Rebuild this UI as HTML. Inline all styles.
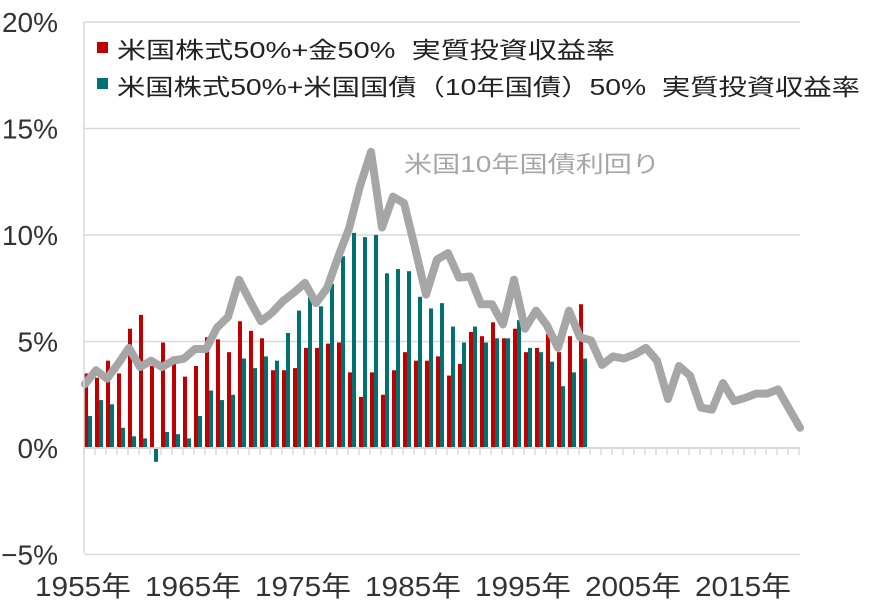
<!DOCTYPE html>
<html><head><meta charset="utf-8">
<style>
html,body{margin:0;padding:0;background:#fff;}
svg{display:block;font-family:"Liberation Sans","Noto Sans CJK JP",sans-serif;}
</style></head>
<body>
<svg id="chart" width="872" height="608" viewBox="0 0 872 608" xmlns="http://www.w3.org/2000/svg">
<g id="grid"></g>
<g id="bars"></g>
<g id="line"></g>
<g id="axes"></g>
<g>
  <rect x="97" y="42" width="11" height="11" fill="#c00000"/>
  <text x="117" y="58" font-size="23" fill="#222" textLength="498" lengthAdjust="spacingAndGlyphs" xml:space="preserve">米国株式50%+金50%  実質投資収益率</text>
  <rect x="97" y="78" width="11" height="11" fill="#007070"/>
  <text x="117" y="95" font-size="23" fill="#222" textLength="743" lengthAdjust="spacingAndGlyphs" xml:space="preserve">米国株式50%+米国国債（10年国債）50%  実質投資収益率</text>
</g>
<text x="404" y="172" font-size="23" fill="#a6a6a6" textLength="256" lengthAdjust="spacingAndGlyphs">米国10年国債利回り</text>
</svg>
<script>
const startYear = 1955;
const goldReturns = [3.5,3.3,4.1,3.5,5.6,6.25,3.85,4.95,4.3,3.35,3.85,5.2,5.1,4.5,5.95,5.5,5.15,3.65,3.65,3.75,4.7,4.7,4.9,4.95,3.55,2.4,3.55,2.5,3.65,4.5,4.1,4.1,4.3,3.4,3.95,5.45,5.25,5.9,5.15,5.6,4.5,4.7,5.35,4.5,5.25,6.75];
const bondReturns = [1.5,2.25,2.05,0.95,0.55,0.45,-0.65,0.75,0.65,0.45,1.5,2.7,2.25,2.5,4.2,3.75,4.3,4.1,5.4,6.45,7.2,6.65,7.7,9.0,10.1,9.9,10.0,8.2,8.4,8.3,7.1,6.55,6.8,5.7,4.95,5.7,4.95,5.15,5.15,6.0,4.7,4.5,4.05,2.9,3.55,4.2];
const yields = [3.0,3.65,3.25,3.95,4.7,3.8,4.1,3.8,4.1,4.2,4.65,4.65,5.65,6.15,7.9,6.9,5.95,6.35,6.9,7.3,7.75,6.8,7.5,8.95,10.3,12.3,13.9,10.35,11.8,11.5,9.4,7.2,8.85,9.15,8.0,8.05,6.75,6.75,5.8,7.9,5.6,6.45,5.75,4.7,6.45,5.2,5.05,3.9,4.3,4.2,4.4,4.7,4.1,2.3,3.85,3.4,1.9,1.8,3.05,2.2,2.35,2.55,2.55,2.75,1.85,0.95];
const yTicks = [20,15,10,5,0,-5];
const yTickLabels = ["20%","15%","10%","5%","0%","\u22125%"];
const xLabelYears = [1955,1965,1975,1985,1995,2005,2015];

const NS="http://www.w3.org/2000/svg";
const X0=84, STEP=11, NCAT=65;
function xPos(i){return X0+STEP*i;}
function yPos(v){return 448-v*21.3;}
function mk(tag,attrs,parent){const e=document.createElementNS(NS,tag);for(const k in attrs)e.setAttribute(k,attrs[k]);parent.appendChild(e);return e;}

const grid=document.getElementById('grid');
yTicks.forEach((t,k)=>{
  if(t!==0){
    const g=mk('line',{x1:X0,x2:800,y1:yPos(t),y2:yPos(t),stroke:'#d9d9d9','stroke-width':1.5},grid);
    
    
  }
  const lb=mk('text',{x:58,y:yPos(t)+10,'font-size':28,'text-anchor':'end',fill:'#333'},grid);
  
  
  lb.textContent=yTickLabels[k];
});

const bars=document.getElementById('bars');
goldReturns.forEach((v,i)=>{
  const cx=xPos(i)+2;
  const r=mk('rect',{x:cx-2,width:4,y:Math.min(yPos(v),yPos(0)),height:Math.abs(yPos(v)-yPos(0)),fill:'#c00000'},bars);
  
  
});
bondReturns.forEach((v,i)=>{
  const cx=xPos(i)+6;
  const r=mk('rect',{x:cx-2,width:4,y:Math.min(yPos(v),yPos(0)),height:Math.abs(yPos(v)-yPos(0)),fill:'#007070'},bars);
  
  
});

const axes=document.getElementById('axes');
const ya=mk('line',{x1:X0,x2:X0,y1:22,y2:553,stroke:'#d9d9d9','stroke-width':1.5},axes);


const xa=mk('line',{x1:X0,x2:800,y1:yPos(0),y2:yPos(0),stroke:'#d9d9d9','stroke-width':2},axes);


for(let i=0;i<=NCAT;i++){
  const t=mk('line',{x1:xPos(i),x2:xPos(i),y1:yPos(0),y2:yPos(0)+7,stroke:'#d9d9d9','stroke-width':1.5},axes);
  
  
}
xLabelYears.forEach(y=>{
  const t=mk('text',{x:xPos(y-startYear)-1,y:596,'font-size':28,'text-anchor':'middle',fill:'#333',textLength:96,lengthAdjust:'spacingAndGlyphs'},axes);
  
  
  t.textContent=y+'年';
});

const lineG=document.getElementById('line');
const pts=yields.map((v,i)=>(xPos(i)+1)+','+yPos(v)).join(' ');
const pl=mk('polyline',{points:pts,fill:'none',stroke:'#a6a6a6','stroke-width':8,'stroke-linejoin':'round','stroke-linecap':'round'},lineG);


</script>
</body></html>
